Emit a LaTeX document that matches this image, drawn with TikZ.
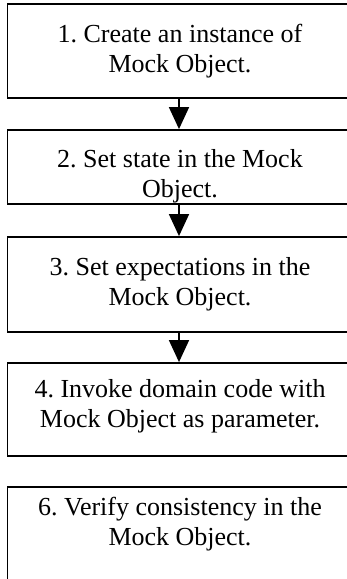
\documentclass[tikz,border=0pt]{standalone}
\usepackage{fontspec}
\setmainfont{Liberation Serif}
\usetikzlibrary{arrows.meta}
\frenchspacing

\tikzset{
  stepbox/.style={draw=black, line width=1.8pt, minimum width=343pt, inner sep=0pt},
  steptext/.style={align=center, inner sep=0pt, font=\fontsize{26}{30.5}\selectfont},
  flow/.style={draw=black, line width=1.5pt,
    -{Triangle[width=20pt,length=22pt]}},
}

\begin{document}
\begin{tikzpicture}[x=1pt, y=-1pt]
  \useasboundingbox (0,0) rectangle (347,579);
  \fill[white] (0,0) rectangle (347,579);
  \clip (0,0) rectangle (347,579);

  % process boxes
  \node[stepbox, minimum height=94pt]  (b1) at (179,51)    {};
  \node[stepbox, minimum height=74pt]  (b2) at (179,167)   {};
  \node[stepbox, minimum height=95pt]  (b3) at (179,284.5) {};
  \node[stepbox, minimum height=93pt]  (b4) at (179,409.5) {};
  \node[stepbox, minimum height=133pt] (b6) at (179,553.5) {};

  % step descriptions
  \node[steptext] (t1) at (180,51.2)  {\strut 1. Create an instance of\\\strut Mock Object.};
  \node[steptext] (t2) at (180,176.6) {\strut 2. Set state in the Mock\\\strut Object.};
  \node[steptext] (t3) at (180,284.2) {\strut 3. Set expectations in the\\\strut Mock Object.};
  \node[steptext] (t4) at (180,406.2) {\strut 4. Invoke domain code with\\\strut Mock Object as parameter.};
  \node[steptext] (t6) at (180,524.2) {\strut 6. Verify consistency in the\\\strut Mock Object.};

  % sequence arrows
  \draw[flow] (b1.south) -- (b2.north);
  \draw[flow] (b2.south) -- (b3.north);
  \draw[flow] (b3.south) -- (b4.north);
\end{tikzpicture}
\end{document}
